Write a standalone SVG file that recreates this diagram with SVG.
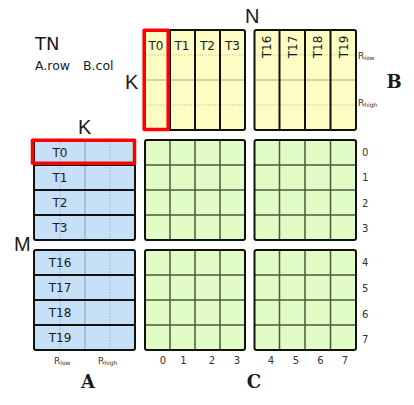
<svg xmlns="http://www.w3.org/2000/svg" width="414" height="405" viewBox="0 0 414 405">
<style>
text{font-family:"DejaVu Sans",Verdana,sans-serif;fill:#1a1a1a}
.t{font-size:12px;text-anchor:middle}
.big{font-family:"Liberation Sans",Arial,sans-serif;font-size:20px}
.bold{font-family:"DejaVu Serif",serif;font-weight:bold;font-size:18px;text-anchor:middle}
.num{font-size:10px;fill:#333}
.nm{font-size:10px;fill:#333;text-anchor:middle}
.r{font-size:9px;fill:#333}
.sub{font-size:6px}
.outer{stroke:#111;stroke-width:2;fill:none}
.sep{stroke:#111;stroke-width:2}
.bB{fill:#fdfcc2}
.bA{fill:#c6e0f8}
.bC{fill:#e1fcc4}
.grid{stroke:#4b5a3c;stroke-width:1.5}
.mid{stroke:#a8a89a;stroke-width:1}
.dot{stroke:#d6d4a8;stroke-width:1;stroke-dasharray:2 1}
.midA{stroke:#8aa0b8;stroke-width:1}
.dotA{stroke:#a8bcd4;stroke-width:1;stroke-dasharray:2 1}
.red{fill:none;stroke:#ff0000;stroke-width:3.5;stroke-linejoin:round}
</style>

<g id="titles">
<text x="35" y="50" style="font-size:18px">TN</text>
<text x="35" y="70" style="font-size:12.5px">A.row</text>
<text x="83" y="70" style="font-size:12.5px">B.col</text>
<text class="big" x="245" y="23">N</text>
<text class="big" x="125" y="89">K</text>
<text class="big" x="78" y="134">K</text>
<text class="big" x="14" y="251">M</text>
</g>

<g id="matrixB">
<rect class="bB" x="145" y="30" width="100" height="100"/>
<rect class="bB" x="254.5" y="30" width="101.5" height="100"/>
<line class="dot" x1="145" y1="55" x2="245" y2="55"/>
<line class="mid" x1="145" y1="80" x2="245" y2="80"/>
<line class="dot" x1="145" y1="105" x2="245" y2="105"/>
<line class="dot" x1="254.5" y1="55" x2="356" y2="55"/>
<line class="mid" x1="254.5" y1="80" x2="356" y2="80"/>
<line class="dot" x1="254.5" y1="105" x2="356" y2="105"/>
<line class="sep" x1="170" y1="30" x2="170" y2="130"/>
<line class="sep" x1="195" y1="30" x2="195" y2="130"/>
<line class="sep" x1="220" y1="30" x2="220" y2="130"/>
<line class="sep" x1="279.5" y1="30" x2="279.5" y2="130"/>
<line class="sep" x1="305" y1="30" x2="305" y2="130"/>
<line class="sep" x1="330.5" y1="30" x2="330.5" y2="130"/>
<rect class="outer" x="145" y="30" width="100" height="100" rx="2"/>
<rect class="outer" x="254.5" y="30" width="101.5" height="100" rx="2"/>
<text class="t" x="156" y="50">T0</text>
<text class="t" x="182" y="50">T1</text>
<text class="t" x="207.5" y="50">T2</text>
<text class="t" x="232.5" y="50">T3</text>
<text class="t" transform="translate(271,47) rotate(-90)">T16</text>
<text class="t" transform="translate(296.5,47) rotate(-90)">T17</text>
<text class="t" transform="translate(322,47) rotate(-90)">T18</text>
<text class="t" transform="translate(347.5,47) rotate(-90)">T19</text>
<text class="r" x="358" y="59">R<tspan class="sub" dy="1">low</tspan></text>
<text class="r" x="358" y="106">R<tspan class="sub" dy="1">high</tspan></text>
<text class="bold" x="394" y="88">B</text>
<rect class="red" x="144.2" y="30.2" width="24" height="99.3"/>
</g>

<g id="matrixA">
<rect class="bA" x="34" y="140" width="101" height="100"/>
<rect class="bA" x="34" y="250" width="101" height="100"/>
<line class="dotA" x1="60" y1="140" x2="60" y2="240"/>
<line class="midA" x1="85" y1="140" x2="85" y2="240"/>
<line class="dotA" x1="110" y1="140" x2="110" y2="240"/>
<line class="dotA" x1="60" y1="250" x2="60" y2="350"/>
<line class="midA" x1="85" y1="250" x2="85" y2="350"/>
<line class="dotA" x1="110" y1="250" x2="110" y2="350"/>
<line class="sep" x1="34" y1="165" x2="135" y2="165"/>
<line class="sep" x1="34" y1="190" x2="135" y2="190"/>
<line class="sep" x1="34" y1="215" x2="135" y2="215"/>
<line class="sep" x1="34" y1="275" x2="135" y2="275"/>
<line class="sep" x1="34" y1="300" x2="135" y2="300"/>
<line class="sep" x1="34" y1="325" x2="135" y2="325"/>
<rect class="outer" x="34" y="140" width="101" height="100" rx="2"/>
<rect class="outer" x="34" y="250" width="101" height="100" rx="2"/>
<text class="t" x="60" y="157">T0</text>
<text class="t" x="60" y="182">T1</text>
<text class="t" x="60" y="207">T2</text>
<text class="t" x="60" y="232">T3</text>
<text class="t" x="60" y="267">T16</text>
<text class="t" x="60" y="292">T17</text>
<text class="t" x="60" y="317">T18</text>
<text class="t" x="60" y="342">T19</text>
<text class="r" x="54" y="364">R<tspan class="sub" dy="1">low</tspan></text>
<text class="r" x="98" y="364">R<tspan class="sub" dy="1">high</tspan></text>
<text class="bold" x="88" y="388">A</text>
<rect class="red" x="32.5" y="140.3" width="102" height="23"/>
</g>

<g id="matrixC">
<rect class="bC" x="145" y="140" width="100" height="100"/>
<rect class="bC" x="254.5" y="140" width="101.5" height="100"/>
<rect class="bC" x="145" y="250" width="100" height="100"/>
<rect class="bC" x="254.5" y="250" width="101.5" height="100"/>
<g class="grid">
<line x1="170" y1="140" x2="170" y2="240"/><line x1="195" y1="140" x2="195" y2="240"/><line x1="220" y1="140" x2="220" y2="240"/>
<line x1="145" y1="165" x2="245" y2="165"/><line x1="145" y1="190" x2="245" y2="190"/><line x1="145" y1="215" x2="245" y2="215"/>
<line x1="279.5" y1="140" x2="279.5" y2="240"/><line x1="305" y1="140" x2="305" y2="240"/><line x1="330.5" y1="140" x2="330.5" y2="240"/>
<line x1="254.5" y1="165" x2="356" y2="165"/><line x1="254.5" y1="190" x2="356" y2="190"/><line x1="254.5" y1="215" x2="356" y2="215"/>
<line x1="170" y1="250" x2="170" y2="350"/><line x1="195" y1="250" x2="195" y2="350"/><line x1="220" y1="250" x2="220" y2="350"/>
<line x1="145" y1="275" x2="245" y2="275"/><line x1="145" y1="300" x2="245" y2="300"/><line x1="145" y1="325" x2="245" y2="325"/>
<line x1="279.5" y1="250" x2="279.5" y2="350"/><line x1="305" y1="250" x2="305" y2="350"/><line x1="330.5" y1="250" x2="330.5" y2="350"/>
<line x1="254.5" y1="275" x2="356" y2="275"/><line x1="254.5" y1="300" x2="356" y2="300"/><line x1="254.5" y1="325" x2="356" y2="325"/>
</g>
<rect class="outer" x="145" y="140" width="100" height="100" rx="2"/>
<rect class="outer" x="254.5" y="140" width="101.5" height="100" rx="2"/>
<rect class="outer" x="145" y="250" width="100" height="100" rx="2"/>
<rect class="outer" x="254.5" y="250" width="101.5" height="100" rx="2"/>
<text class="num" x="362" y="156">0</text>
<text class="num" x="362" y="181">1</text>
<text class="num" x="362" y="207">2</text>
<text class="num" x="362" y="232">3</text>
<text class="num" x="362" y="266">4</text>
<text class="num" x="362" y="292">5</text>
<text class="num" x="362" y="318">6</text>
<text class="num" x="362" y="343">7</text>
<text class="nm" x="163" y="364">0</text>
<text class="nm" x="183.5" y="364">1</text>
<text class="nm" x="212" y="364">2</text>
<text class="nm" x="237" y="364">3</text>
<text class="nm" x="271" y="364">4</text>
<text class="nm" x="296" y="364">5</text>
<text class="nm" x="320.5" y="364">6</text>
<text class="nm" x="345" y="364">7</text>
<text class="bold" x="254" y="388">C</text>
</g>
</svg>
